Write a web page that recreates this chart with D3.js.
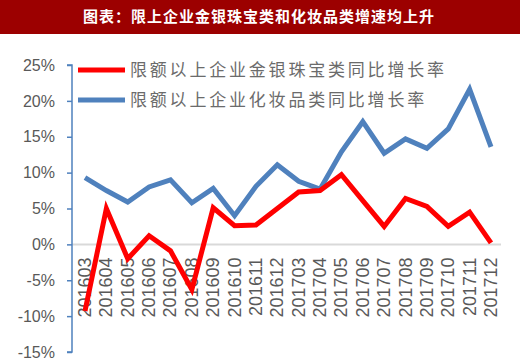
<!DOCTYPE html>
<html>
<head>
<meta charset="utf-8">
<script src="https://cdn.jsdelivr.net/npm/d3@7"></script>
<style>
  body { margin: 0; background: #fff; }
  svg { display: block; }
</style>
</head>
<body>
<svg id="chart" width="520" height="362"></svg>
<script>
const months = ["201603", "201604", "201605", "201606", "201607", "201608", "201609", "201610", "201611", "201612",
  "201703", "201704", "201705", "201706", "201707", "201708", "201709", "201710", "201711", "201712"];
const jewelry = [-9.3, 5.0, -2.0, 1.2, -0.9, -6.3, 5.1, 2.6, 2.7, 5.0,
  7.3, 7.5, 9.7, 6.1, 2.5, 6.4, 5.3, 2.5, 4.5, 0.2];
const cosmetics = [9.3, 7.5, 5.9, 8.0, 9.0, 5.8, 7.8, 4.0, 8.1, 11.1,
  8.8, 7.7, 12.9, 17.1, 12.7, 14.7, 13.4, 16.1, 21.6, 13.6];
const yTicks = [-15, -10, -5, 0, 5, 10, 15, 20, 25];
const title = "图表：限上企业金银珠宝类和化妆品类增速均上升";
const seriesNames = ["限额以上企业金银珠宝类同比增长率", "限额以上企业化妆品类同比增长率"];

const svg = d3.select("#chart");
const W = 520;

// title bar
svg.append("rect").attr("x", 0).attr("y", 0).attr("width", W).attr("height", 34).attr("fill", "#9c0000");
svg.append("text")
  .attr("x", 259).attr("y", 22)
  .attr("text-anchor", "middle")
  .attr("font-family", "Noto Sans CJK SC")
  .attr("font-weight", "bold")
  .attr("font-size", "15px")
  .attr("letter-spacing", "1px")
  .attr("fill", "#fff")
  .text(title);

const x = d3.scalePoint().domain(months).range([85, 491]);
const y = d3.scaleLinear().domain([-15, 25]).range([352, 65]);

// zero line
svg.append("line")
  .attr("x1", 72).attr("x2", 501)
  .attr("y1", y(0)).attr("y2", y(0))
  .attr("stroke", "#d9d9d9").attr("stroke-width", 2);

// y axis
const yAxis = svg.append("g")
  .attr("transform", "translate(72,0)")
  .call(d3.axisLeft(y).tickValues(yTicks).tickSize(5).tickPadding(12).tickFormat((d) => d + "%"));
yAxis.selectAll("path, line").attr("stroke", "#4f81bd").attr("stroke-width", 1.5);
yAxis.select(".domain").attr("d", `M-5,${y(25)}H0V${y(-15)}H-5`);
yAxis.selectAll("text")
  .attr("font-family", "Liberation Sans")
  .attr("font-size", "16px")
  .attr("fill", "#595959");

// x labels
svg.append("g")
  .selectAll("text")
  .data(months)
  .join("text")
  .attr("transform", (d) => `translate(${x(d) + 6},${y(0) + 13}) rotate(-90)`)
  .attr("text-anchor", "end")
  .attr("font-family", "Liberation Sans")
  .attr("font-size", "18px")
  .attr("fill", "#595959")
  .text((d) => d);

const line = d3.line().x((d, i) => x(months[i])).y((d) => y(d));

svg.append("path")
  .datum(cosmetics)
  .attr("d", line)
  .attr("fill", "none")
  .attr("stroke", "#4f81bd")
  .attr("stroke-width", 5);

svg.append("path")
  .datum(jewelry)
  .attr("d", line)
  .attr("fill", "none")
  .attr("stroke", "#ff0000")
  .attr("stroke-width", 5);

// legend
const legend = svg.append("g")
  .selectAll("g")
  .data(seriesNames)
  .join("g")
  .attr("transform", (d, i) => `translate(78,${70 + i * 30})`);
legend.append("line")
  .attr("x1", 0).attr("x2", 47)
  .attr("stroke", (d, i) => (i === 0 ? "#ff0000" : "#4f81bd"))
  .attr("stroke-width", 5);
legend.append("text")
  .attr("x", 52).attr("y", 6)
  .attr("font-family", "Noto Sans CJK SC")
  .attr("font-size", "17px")
  .attr("letter-spacing", "2.8px")
  .attr("fill", "#6b6b6b")
  .text((d) => d);
</script>
</body>
</html>
